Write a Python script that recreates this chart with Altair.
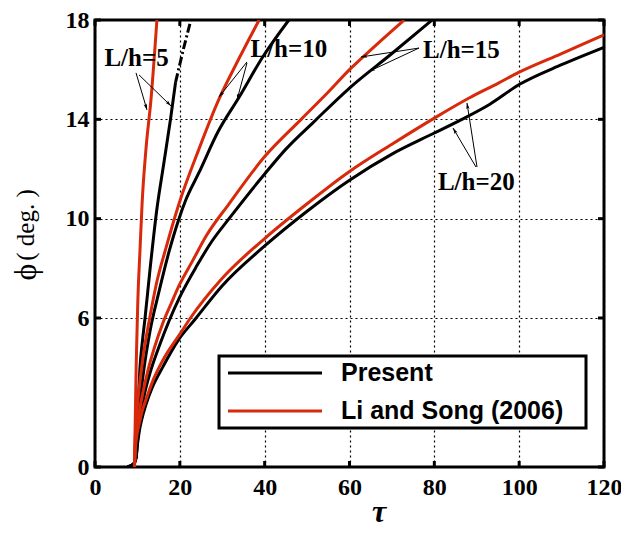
import altair as alt
import pandas as pd
import numpy as np

# ---------------- data ----------------
# Present (black)
b5_tau = [7.6, 9.0, 9.7, 9.9, 10.2, 10.6, 11.2, 11.8, 13.0, 14.6, 16.2, 17.8, 19.0]
b5_phi = [0.0, 0.1, 0.4, 1.4, 2.6, 4.0, 5.1, 6.0, 8.0, 10.4, 12.2, 14.0, 15.5]
b5x_tau = [19.0, 20.8, 22.6]          # dash-dot continuation
b5x_phi = [15.5, 16.8, 18.0]
b10_tau = [7.6, 9.0, 9.7, 10.0, 10.6, 11.5, 13.0, 15.0, 17.5, 19.8, 21.4, 24.5, 29.0, 34.0, 39.5, 45.7]
b10_phi = [0.0, 0.1, 0.4, 1.3, 2.6, 3.9, 5.5, 7.0, 8.7, 10.0, 10.75, 11.85, 13.5, 14.9, 16.5, 18.0]
b15_tau = [7.6, 9.0, 9.7, 10.0, 10.6, 11.5, 13.0, 15.0, 17.5, 20.0, 24.0, 27.6, 31.6, 40.0, 45.0, 51.6, 60.0, 70.0, 79.5]
b15_phi = [0.0, 0.1, 0.4, 1.0, 1.9, 2.8, 3.8, 4.8, 5.9, 6.85, 8.1, 9.1, 10.0, 11.8, 12.8, 13.9, 15.26, 16.65, 18.0]
b20_tau = [7.6, 9.0, 9.7, 10.0, 10.5, 11.0, 12.0, 13.5, 15.9, 19.6, 23.6, 30.0, 40.0, 50.0, 60.0, 70.0, 80.0, 86.5, 93.0, 100.0, 110.0, 120.0]
b20_phi = [0.0, 0.1, 0.4, 0.9, 1.5, 1.9, 2.5, 3.2, 4.0, 5.1, 5.95, 7.3, 8.9, 10.3, 11.55, 12.6, 13.45, 14.0, 14.6, 15.4, 16.2, 16.9]

# Li and Song (2006) (red)
r5_tau = [9.3, 9.5, 9.7, 9.9, 10.1, 10.6, 11.1, 12.0, 13.2, 14.6]
r5_phi = [0.0, 2.0, 4.0, 5.4, 6.7, 8.7, 10.6, 12.77, 14.8, 18.0]
r10_tau = [9.3, 9.5, 9.9, 10.5, 11.3, 12.9, 14.5, 16.7, 19.8, 24.5, 29.2, 33.5, 38.7]
r10_phi = [0.0, 1.2, 2.3, 3.3, 4.4, 6.0, 7.4, 8.8, 10.6, 12.8, 14.8, 16.3, 18.0]
r15_tau = [9.3, 9.5, 9.9, 10.5, 11.3, 12.5, 14.0, 16.0, 18.0, 19.8, 23.0, 26.2, 31.6, 40.0, 48.6, 55.0, 60.0, 66.0, 72.9]
r15_phi = [0.0, 0.9, 1.6, 2.3, 3.0, 3.9, 4.8, 5.8, 6.6, 7.3, 8.3, 9.3, 10.6, 12.5, 14.0, 15.1, 16.0, 16.95, 18.0]
r20_tau = [9.3, 9.5, 9.9, 10.5, 11.2, 12.2, 13.7, 16.0, 20.0, 22.5, 30.0, 40.0, 50.0, 60.0, 70.0, 80.0, 88.2, 95.0, 100.0, 110.0, 120.0]
r20_phi = [0.0, 0.7, 1.3, 1.8, 2.3, 2.8, 3.5, 4.3, 5.35, 6.0, 7.6, 9.2, 10.6, 11.9, 13.0, 14.05, 14.86, 15.45, 15.9, 16.65, 17.4]

x_ticks = [0, 20, 40, 60, 80, 100, 120]
y_ticks = [0, 6, 10, 14, 18]
series_names = ["Present", "Li and Song (2006)"]

# annotation labels
lab_text = ["L/h=5", "L/h=10", "L/h=15", "L/h=20"]
lab_tau = [9.8, 45.7, 86.4, 89.9]
lab_phi = [16.47, 16.83, 16.8, 11.46]

# arrows (start -> end)
arr_tau0 = [9.67, 10.37, 35.83, 35.83, 76.38, 76.38, 89.82, 90.06]
arr_phi0 = [15.87, 15.79, 16.31, 16.27, 16.87, 16.87, 12.08, 12.08]
arr_tau1 = [12.26, 17.92, 29.23, 33.48, 62.71, 64.6, 84.4, 87.7]
arr_phi1 = [14.38, 14.54, 14.9, 14.78, 16.51, 15.93, 13.65, 14.66]

# ---------------- build tables ----------------
rows = []
def add(tau, phi, src, lh):
    for i, (t, p) in enumerate(zip(tau, phi)):
        rows.append(dict(tau=t, phi=p, source=src, lh=lh, order=i))

add(b5_tau, b5_phi, "Present", "5")
add(b10_tau, b10_phi, "Present", "10")
add(b15_tau, b15_phi, "Present", "15")
add(b20_tau, b20_phi, "Present", "20")
add(r5_tau, r5_phi, "Li and Song (2006)", "5")
add(r10_tau, r10_phi, "Li and Song (2006)", "10")
add(r15_tau, r15_phi, "Li and Song (2006)", "15")
add(r20_tau, r20_phi, "Li and Song (2006)", "20")
df = pd.DataFrame(rows)
df_ext = pd.DataFrame(dict(tau=b5x_tau, phi=b5x_phi, order=range(len(b5x_tau))))

W, H = 509, 447
XMAX, YMAX = 120.0, 18.0
t0 = np.array(arr_tau0); p0 = np.array(arr_phi0)
t1 = np.array(arr_tau1); p1 = np.array(arr_phi1)
dx = (t1 - t0) * W / XMAX
dy_up = (p1 - p0) * H / YMAX
ang = (np.degrees(np.arctan2(dx, dy_up)) + 360) % 360
df_arr = pd.DataFrame(dict(t0=t0, p0=p0, t1=t1, p1=p1, ang=ang))
df_lab = pd.DataFrame(dict(t=lab_tau, p=lab_phi, txt=lab_text))

xs = alt.Scale(domain=[0, XMAX], nice=False, zero=False)
ys = alt.Scale(domain=[0, YMAX], nice=False, zero=False)

x_axis = alt.Axis(values=x_ticks, grid=True, gridDash=[2, 3], gridColor="black",
                  gridWidth=1.2, gridOpacity=1, ticks=False, domain=False,
                  labelFlush=False, labelOverlap=False,
                  labelFont="Liberation Serif", labelFontWeight="bold",
                  labelFontSize=24, labelColor="black", labelPadding=8, title=None)
y_axis = alt.Axis(values=y_ticks, grid=True, gridDash=[2, 3], gridColor="black",
                  gridWidth=1.2, gridOpacity=1, ticks=False, domain=False,
                  labelFlush=False, labelOverlap=False,
                  labelFont="Liberation Serif", labelFontWeight="bold",
                  labelFontSize=24, labelColor="black", labelPadding=6, title=None)

RED = "#d8290b"
color_scale = alt.Scale(domain=series_names, range=["black", RED])

base = alt.Chart(df)
lines = base.mark_line(strokeWidth=3, clip=True, interpolate="monotone").encode(
    x=alt.X("tau:Q", scale=xs, axis=x_axis),
    y=alt.Y("phi:Q", scale=ys, axis=y_axis),
    color=alt.Color("source:N", sort=series_names, scale=color_scale, legend=None),
    detail="lh:N",
    order="order:Q",
)

ext = alt.Chart(df_ext).mark_line(strokeWidth=3, color="black",
                                  strokeDash=[9, 3, 2, 3], clip=True).encode(
    x=alt.X("tau:Q", scale=xs), y=alt.Y("phi:Q", scale=ys), order="order:Q")

arr_lines = alt.Chart(df_arr).mark_rule(strokeWidth=1, color="black").encode(
    x=alt.X("t0:Q", scale=xs), y=alt.Y("p0:Q", scale=ys),
    x2="t1:Q", y2="p1:Q")
arr_heads = alt.Chart(df_arr).mark_point(
    shape="M0,0L0.45,1.6L0,1.2L-0.45,1.6Z", filled=True, color="black",
    opacity=1, size=60).encode(
    x=alt.X("t1:Q", scale=xs), y=alt.Y("p1:Q", scale=ys),
    angle=alt.Angle("ang:Q", scale=None))

labels = alt.Chart(df_lab).mark_text(
    font="Liberation Serif", fontWeight="bold", fontSize=25, color="black",
    align="center", baseline="middle").encode(
    x=alt.X("t:Q", scale=xs), y=alt.Y("p:Q", scale=ys), text="txt:N")

# inward tick marks on all four sides
tx = pd.DataFrame(dict(v=x_ticks))
ty = pd.DataFrame(dict(v=y_ticks))
tick_b = alt.Chart(tx).mark_rule(strokeWidth=3, color="black").encode(
    x=alt.X("v:Q", scale=xs), y=alt.value(H), y2=alt.value(H - 6))
tick_t = alt.Chart(tx).mark_rule(strokeWidth=3, color="black").encode(
    x=alt.X("v:Q", scale=xs), y=alt.value(0), y2=alt.value(6))
tick_l = alt.Chart(ty).mark_rule(strokeWidth=3, color="black").encode(
    y=alt.Y("v:Q", scale=ys), x=alt.value(0), x2=alt.value(6))
tick_r = alt.Chart(ty).mark_rule(strokeWidth=3, color="black").encode(
    y=alt.Y("v:Q", scale=ys), x=alt.value(W), x2=alt.value(W - 6))

# legend (boxed key inside the plot)
leg_df = pd.DataFrame(dict(name=series_names))
leg_box = alt.Chart(pd.DataFrame(dict(k=[0]))).mark_rect(
    fill="white", stroke="black", strokeWidth=3).encode(
    x=alt.value(124), x2=alt.value(491), y=alt.value(336), y2=alt.value(408))
leg_layers = []
for name, ypix in zip(series_names, [353, 391]):
    sub = alt.Chart(leg_df).transform_filter(alt.datum.name == name)
    leg_layers.append(sub.mark_rule(strokeWidth=3).encode(
        x=alt.value(133), x2=alt.value(227), y=alt.value(ypix),
        color=alt.Color("name:N", scale=color_scale, legend=None)))
    leg_layers.append(sub.mark_text(
        font="Liberation Sans", fontWeight="bold", fontSize=25, color="black",
        align="left", baseline="middle").encode(
        x=alt.value(246), y=alt.value(ypix), text="name:N"))

# axis titles
phi_title = alt.Chart(pd.DataFrame(dict(s=["ϕ"]))).mark_text(
    font="Liberation Serif", fontSize=32, angle=270, color="black",
    align="center", baseline="middle").encode(
    x=alt.value(-69), y=alt.value(252), text="s:N")
deg_title = alt.Chart(pd.DataFrame(dict(s=["( deg. )"]))).mark_text(
    font="Liberation Serif", fontSize=25, angle=270, color="black",
    align="center", baseline="middle").encode(
    x=alt.value(-69), y=alt.value(205), text="s:N")
tau_title = alt.Chart(pd.DataFrame(dict(s=["τ"]))).mark_text(
    font="Liberation Serif", fontSize=32, fontStyle="italic", fontWeight="bold",
    color="black", align="center", baseline="middle").encode(
    x=alt.value(284), y=alt.value(492), text="s:N")

chart = alt.layer(
    lines, ext, arr_lines, arr_heads, labels,
    tick_b, tick_t, tick_l, tick_r,
    leg_box, *leg_layers,
    phi_title, deg_title, tau_title,
).properties(
    width=W, height=H,
    autosize=alt.AutoSizeParams(type="none"),
    padding={"left": 87, "top": 12, "right": 17, "bottom": 62},
).configure_view(
    stroke="black", strokeWidth=3
)

chart.save("out.html", embed_options={"renderer": "svg", "actions": False})
